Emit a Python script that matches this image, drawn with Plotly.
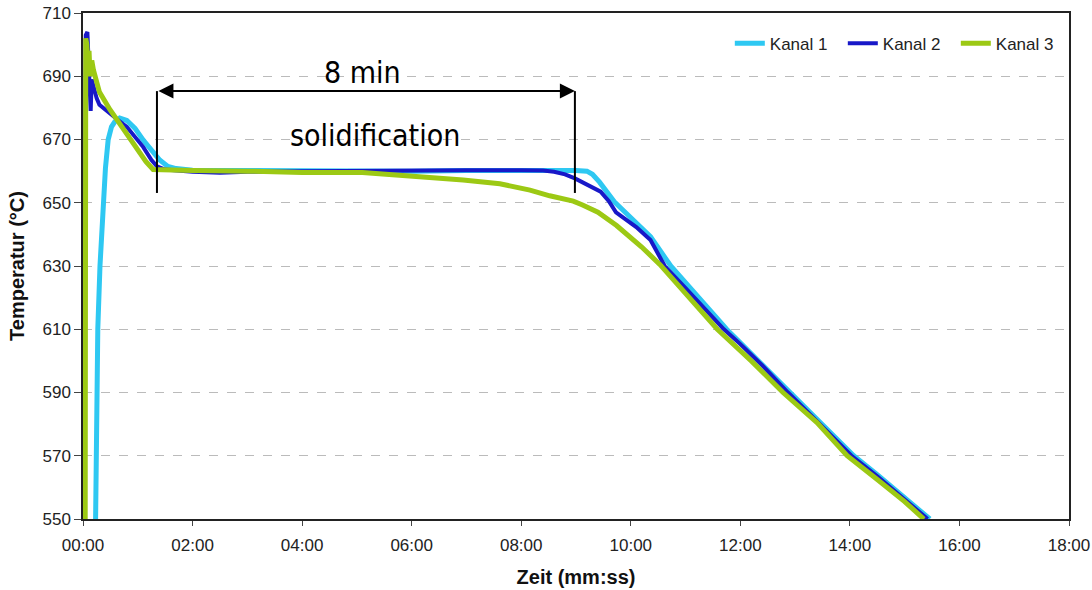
import plotly.graph_objects as go

# ---- data (time in minutes, temperature in °C) ----
k1_t = [0.23, 0.24, 0.27, 0.31, 0.36, 0.41, 0.46, 0.52, 0.58, 0.67, 0.80, 0.95, 1.10, 1.25, 1.40, 1.55, 1.70,
        2.0, 3.0, 4.0, 5.0, 6.0, 7.0, 8.0, 8.6, 9.0, 9.2, 9.3, 9.43, 9.55, 9.7, 9.85, 10.0, 10.2, 10.36,
        10.55, 10.73, 11.0, 11.25, 11.5, 11.75, 12.0, 12.5, 12.92, 13.5, 14.07, 14.5, 15.0, 15.46]
k1_T = [550, 570, 610, 630, 650, 661, 670, 674, 675.6, 676.8, 676, 673.5, 669.8, 666.5, 663.5, 661.5, 660.8,
        660.3, 660.2, 660, 660, 660, 660.2, 660.3, 660.3, 660.2, 660, 659, 656.5, 653.5, 650.3, 647.8, 645.3, 642.2, 639.3,
        634.5, 630, 624.7, 619.8, 614.9, 610, 605.7, 597.2, 590, 580, 570, 564, 556.8, 550]

k2_t = [0.02, 0.05, 0.08, 0.11, 0.14, 0.16, 0.20, 0.25, 0.30, 0.40, 0.50, 0.65, 0.80, 0.95, 1.10, 1.25, 1.35, 1.5,
        2.0, 2.5, 3.0, 4.0, 5.0, 6.0, 7.0, 8.0, 8.4, 8.6, 8.8, 8.98, 9.2, 9.45, 9.6, 9.73, 9.9, 10.1, 10.36,
        10.62, 11.0, 11.35, 11.7, 12.0, 12.4, 12.87, 13.4, 14.03, 14.5, 15.0, 15.42]
k2_T = [550, 703, 704, 691, 679, 689, 686, 683, 681, 679.5, 678.4, 676, 674, 671, 667.6, 663.5, 661.5, 660.5,
        659.8, 659.5, 659.8, 660, 660.2, 660.2, 660.3, 660.3, 660.2, 659.8, 659, 657.7, 655.8, 653.5, 650.5, 647, 644.8, 642.3, 638.2,
        630, 623, 616.5, 610, 605.3, 598.6, 590, 581, 570, 563.5, 556.3, 550]

k3_t = [0.04, 0.05, 0.07, 0.09, 0.11, 0.13, 0.16, 0.19, 0.30, 0.49, 0.65, 0.80, 1.00, 1.15, 1.28, 1.5,
        2.0, 3.0, 4.0, 5.1, 6.0, 6.94, 7.61, 8.16, 8.52, 8.95, 9.12, 9.4, 9.74, 9.93, 10.2, 10.53,
        11.0, 11.58, 12.2, 12.78, 13.4, 13.95, 14.5, 15.0, 15.35]
k3_T = [550, 702, 700, 694, 698, 690, 695, 692, 685, 679.5, 675.5, 672, 667, 663, 660.5, 660.3,
        660.2, 660, 659.6, 659.6, 658.5, 657.2, 656, 654, 652.2, 650.5, 649.3, 647, 642.8, 640, 636, 630.5,
        621.5, 610, 600, 590, 580.5, 570, 562.5, 555.5, 550]

series_names = ["Kanal 1", "Kanal 2", "Kanal 3"]
series_colors = ["#2EC8F2", "#1818C8", "#9CC914"]

x_tickvals = [0, 2, 4, 6, 8, 10, 12, 14, 16, 18]
x_ticktext = ["00:00", "02:00", "04:00", "06:00", "08:00", "10:00", "12:00", "14:00", "16:00", "18:00"]
y_tickvals = [550, 570, 590, 610, 630, 650, 670, 690, 710]

# annotation (solidification span)
span_start, span_end = 1.35, 8.98
span_y, span_bottom = 685.3, 653.1
label_top = ("8 min", 5.11, 691.3)
label_mid = ("solidification", 5.33, 671.4)

fig = go.Figure()
for t, T, name, col, w in [(k1_t, k1_T, series_names[0], series_colors[0], 5),
                           (k2_t, k2_T, series_names[1], series_colors[1], 4),
                           (k3_t, k3_T, series_names[2], series_colors[2], 5)]:
    fig.add_trace(go.Scatter(x=t, y=T, mode="lines", name=name,
                             line=dict(color=col, width=w)))

for xv in (span_start, span_end):
    fig.add_shape(type="line", xref="x", yref="y", x0=xv, x1=xv, y0=span_bottom, y1=span_y,
                  line=dict(color="black", width=2))

fig.add_annotation(x=span_end, y=span_y, ax=span_start, ay=span_y, axref="x", ayref="y",
                   xref="x", yref="y", text="", showarrow=True, arrowside="end+start",
                   arrowhead=2, arrowsize=1.5, arrowwidth=2, arrowcolor="black",
                   standoff=0, startstandoff=0)

ann_font = dict(family="DejaVu Sans Condensed, DejaVu Sans, sans-serif", size=30, color="black")
for txt, xv, yv in (label_top, label_mid):
    fig.add_annotation(x=xv, y=yv, xref="x", yref="y", text=txt, showarrow=False, font=ann_font)

tick_font = dict(family="Liberation Sans, Arial, sans-serif", size=17, color="#222")
title_font = dict(family="Liberation Sans, Arial, sans-serif", size=20, color="#111")

fig.update_layout(
    width=1092, height=590,
    margin=dict(l=83, r=23, t=13, b=71, autoexpand=False),
    paper_bgcolor="white", plot_bgcolor="white",
    legend=dict(orientation="h", x=0.656, y=0.975, xanchor="left", yanchor="top",
                entrywidth=68, entrywidthmode="pixels",
                font=dict(family="Liberation Sans, Arial, sans-serif", size=17, color="#222"),
                bgcolor="rgba(0,0,0,0)"),
    showlegend=True,
)
fig.update_xaxes(range=[0, 18], tickvals=x_tickvals, ticktext=x_ticktext, automargin=False,
                 showgrid=False, zeroline=False, showline=True, mirror=True,
                 linecolor="#222", linewidth=1.5, ticks="outside", ticklen=5, tickcolor="#444",
                 tickfont=tick_font, ticklabelstandoff=5,
                 title=dict(text="<b>Zeit (mm:ss)</b>", font=title_font, standoff=16))
fig.update_yaxes(range=[550, 710], tickvals=y_tickvals, automargin=False,
                 showgrid=True, gridcolor="#BBBBBB", griddash="dash", gridwidth=1,
                 zeroline=False, showline=True, mirror=True,
                 linecolor="#222", linewidth=1.5, ticks="outside", ticklen=7, tickcolor="#444",
                 tickfont=tick_font,
                 title=dict(text="<b>Temperatur (°C)</b>", font=title_font, standoff=12))

fig.write_html("out.html")
